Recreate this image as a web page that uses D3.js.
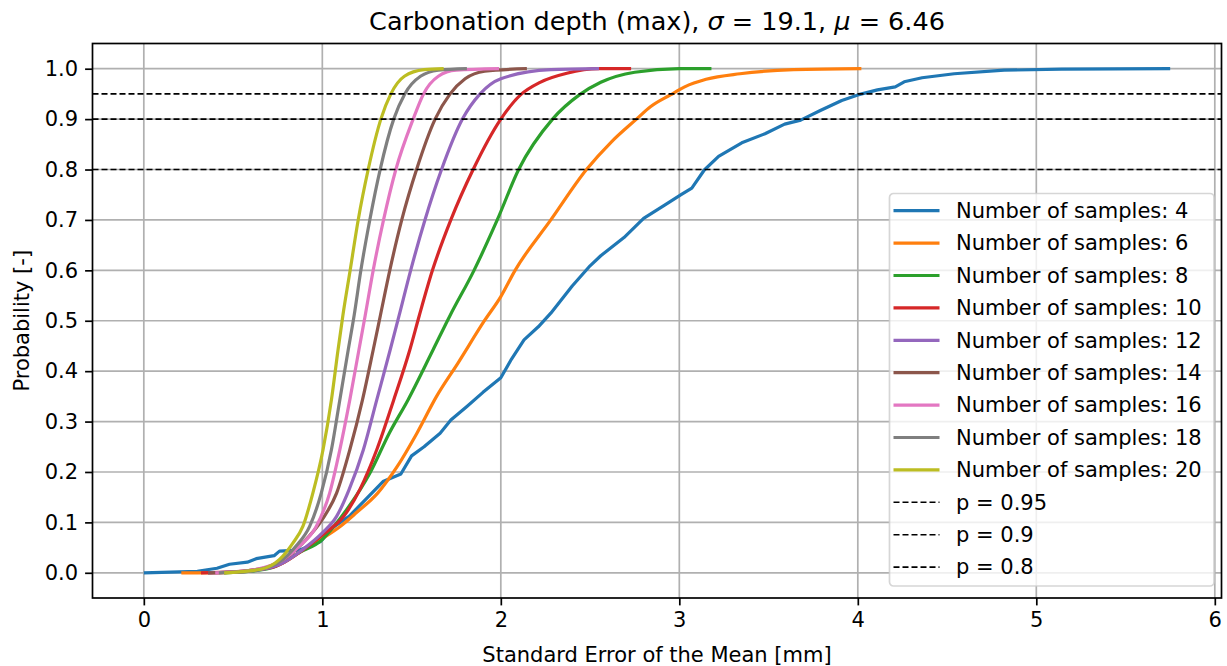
<!DOCTYPE html>
<html>
<head>
<meta charset="utf-8">
<script src="https://cdn.jsdelivr.net/npm/d3@7"></script>
<style>
  body { margin: 0; background: #fff; }
  text { font-family: "DejaVu Sans", sans-serif; fill: #000; }
</style>
</head>
<body>
<div id="chart"></div>
<script>
// standard error of the mean [mm] vs cumulative probability, per sample count
const sem4  = [0, 0.30, 0.41, 0.48, 0.58, 0.63, 0.73, 0.76, 0.87, 0.99, 1.06, 1.15, 1.25, 1.34, 1.44, 1.50, 1.57, 1.66, 1.72, 1.81, 1.90, 2.00, 2.06, 2.13, 2.21, 2.28, 2.40, 2.50, 2.56, 2.69, 2.80, 2.92, 3.01, 3.07, 3.14, 3.22, 3.35, 3.48, 3.59, 3.68, 3.79, 3.91, 4.00, 4.11, 4.21, 4.26, 4.36, 4.54, 4.82, 5.14, 5.75]
const prob4 = [0, 0.003, 0.009, 0.017, 0.021, 0.028, 0.034, 0.043, 0.045, 0.062, 0.09, 0.112, 0.148, 0.181, 0.196, 0.232, 0.25, 0.277, 0.303, 0.33, 0.358, 0.387, 0.424, 0.462, 0.488, 0.515, 0.569, 0.609, 0.629, 0.665, 0.703, 0.73, 0.75, 0.763, 0.799, 0.826, 0.853, 0.871, 0.89, 0.898, 0.917, 0.937, 0.948, 0.958, 0.964, 0.974, 0.982, 0.99, 0.997, 0.999, 1.0]

const sem6  = [0.21, 0.50, 0.59, 0.68, 0.78, 0.87, 1.00, 1.10, 1.19, 1.31, 1.42, 1.53, 1.64, 1.76, 1.91, 2.00, 2.08, 2.28, 2.48, 2.62, 2.76, 2.84, 2.95, 3.03, 3.15, 3.34, 3.64, 4.02]
const prob6 = [0, 0.001, 0.003, 0.01, 0.02, 0.04, 0.068, 0.092, 0.119, 0.158, 0.211, 0.277, 0.35, 0.416, 0.501, 0.548, 0.6, 0.7, 0.8, 0.855, 0.9, 0.925, 0.948, 0.964, 0.979, 0.99, 0.998, 1.0]

const sem8  = [0.45, 0.60, 0.74, 0.87, 1.00, 1.06, 1.15, 1.267, 1.375, 1.48, 1.62, 1.715, 1.85, 1.98, 2.10, 2.29, 2.44, 2.56, 2.75, 3.00, 3.18]
const prob8 = [0, 0.003, 0.013, 0.04, 0.066, 0.09, 0.132, 0.198, 0.277, 0.343, 0.442, 0.51, 0.6, 0.7, 0.8, 0.9, 0.948, 0.973, 0.993, 1.0, 1.0]

const sem10  = [0.32, 0.50, 0.62, 0.74, 0.87, 1.00, 1.12, 1.21, 1.305, 1.40, 1.49, 1.543, 1.617, 1.72, 1.845, 2.00, 2.11, 2.22, 2.37, 2.55, 2.73]
const prob10 = [0, 0.002, 0.006, 0.013, 0.04, 0.075, 0.112, 0.165, 0.244, 0.343, 0.442, 0.51, 0.6, 0.7, 0.8, 0.9, 0.948, 0.973, 0.991, 1.0, 1.0]

const sem12  = [0.36, 0.55, 0.68, 0.78, 0.89, 1.00, 1.08, 1.15, 1.23, 1.305, 1.38, 1.43, 1.495, 1.575, 1.668, 1.785, 1.884, 2.00, 2.28, 2.55]
const prob12 = [0, 0.002, 0.008, 0.02, 0.046, 0.079, 0.112, 0.165, 0.244, 0.343, 0.442, 0.51, 0.6, 0.7, 0.8, 0.9, 0.95, 0.98, 0.998, 1.0]

const sem14  = [0.36, 0.55, 0.68, 0.78, 0.89, 1.00, 1.08, 1.154, 1.225, 1.285, 1.325, 1.378, 1.445, 1.528, 1.632, 1.716, 1.80, 1.91, 2.146]
const prob14 = [0, 0.003, 0.01, 0.026, 0.059, 0.106, 0.158, 0.244, 0.343, 0.442, 0.51, 0.6, 0.7, 0.8, 0.9, 0.95, 0.98, 0.995, 1.0]

const sem16  = [0.40, 0.60, 0.78, 0.872, 0.966, 1.041, 1.098, 1.154, 1.205, 1.24, 1.285, 1.343, 1.412, 1.509, 1.567, 1.65, 1.75, 1.99]
const prob16 = [0, 0.005, 0.026, 0.053, 0.092, 0.158, 0.244, 0.343, 0.442, 0.51, 0.6, 0.7, 0.8, 0.9, 0.95, 0.985, 0.997, 1.0]

const sem18  = [0.42, 0.62, 0.778, 0.853, 0.929, 0.994, 1.051, 1.098, 1.145, 1.178, 1.216, 1.266, 1.324, 1.40, 1.462, 1.55, 1.65, 1.81]
const prob18 = [0, 0.005, 0.026, 0.053, 0.092, 0.158, 0.244, 0.343, 0.442, 0.51, 0.6, 0.7, 0.8, 0.9, 0.95, 0.985, 0.997, 1.0]

const sem20  = [0.45, 0.655, 0.759, 0.835, 0.891, 0.947, 1.004, 1.051, 1.088, 1.115, 1.156, 1.201, 1.257, 1.328, 1.384, 1.46, 1.57, 1.68]
const prob20 = [0, 0.007, 0.026, 0.059, 0.092, 0.158, 0.244, 0.343, 0.442, 0.51, 0.6, 0.7, 0.8, 0.9, 0.95, 0.985, 0.998, 1.0]

const sampleCounts = [4, 6, 8, 10, 12, 14, 16, 18, 20]
const semLists  = [sem4, sem6, sem8, sem10, sem12, sem14, sem16, sem18, sem20]
const probLists = [prob4, prob6, prob8, prob10, prob12, prob14, prob16, prob18, prob20]
const thresholds = [0.95, 0.9, 0.8]

const xTicks = [0, 1, 2, 3, 4, 5, 6]
const yTicks = [0, 0.1, 0.2, 0.3, 0.4, 0.5, 0.6, 0.7, 0.8, 0.9, 1.0]

const colors = ["#1f77b4", "#ff7f0e", "#2ca02c", "#d62728", "#9467bd",
                "#8c564b", "#e377c2", "#7f7f7f", "#bcbd22"]

const W = 1227, H = 666
const axL = 92.5, axR = 1221.5, axT = 43.5, axB = 598

const svg = d3.select("#chart").append("svg")
      .attr("width", W).attr("height", H)

const x = d3.scaleLinear().domain([-0.2875, 6.0375]).range([axL, axR])
const y = d3.scaleLinear().domain([-0.05, 1.05]).range([axB, axT])

// grid
svg.append("g").selectAll("line").data(xTicks).join("line")
  .attr("x1", d => x(d)).attr("x2", d => x(d))
  .attr("y1", axT).attr("y2", axB)
  .attr("stroke", "#b0b0b0").attr("stroke-width", 1.7)
svg.append("g").selectAll("line").data(yTicks).join("line")
  .attr("y1", d => y(d)).attr("y2", d => y(d))
  .attr("x1", axL).attr("x2", axR)
  .attr("stroke", "#b0b0b0").attr("stroke-width", 1.7)

const plot = svg.append("g")

const series = sampleCounts.map((n, i) => ({
  n: n,
  color: colors[i],
  pts: semLists[i].map((s, j) => [s, probLists[i][j]])
}))

const line = d3.line().x(d => x(d[0])).y(d => y(d[1]))

plot.selectAll(".cdf").data(series).join("path")
  .attr("class", "cdf")
  .attr("fill", "none")
  .attr("stroke", d => d.color)
  .attr("stroke-width", 3.2)
  .attr("stroke-linejoin", "round")
  .attr("d", d => line.curve(d.n == 4 ? d3.curveLinear : d3.curveMonotoneX)(d.pts))

plot.selectAll(".thr").data(thresholds).join("line")
  .attr("class", "thr")
  .attr("x1", axL).attr("x2", axR)
  .attr("y1", d => y(d)).attr("y2", d => y(d))
  .attr("stroke", "#000").attr("stroke-width", 1.6)
  .attr("stroke-dasharray", "6,3")

// axes
const xAxis = svg.append("g").attr("transform", `translate(0,${axB})`)
  .call(d3.axisBottom(x).tickValues(xTicks).tickSize(7.4).tickPadding(7).tickFormat(d3.format("d")))
const yAxis = svg.append("g").attr("transform", `translate(${axL},0)`)
  .call(d3.axisLeft(y).tickValues(yTicks).tickSize(7.4).tickPadding(7).tickFormat(d3.format(".1f")))

for (const ax of [xAxis, yAxis]) {
  ax.select(".domain").remove()
  ax.selectAll(".tick line").attr("stroke", "#000").attr("stroke-width", 1.7)
  ax.selectAll(".tick text").attr("font-size", 21).attr("font-family", "DejaVu Sans").attr("fill", "#000")
}

svg.append("rect")
  .attr("x", axL).attr("y", axT)
  .attr("width", axR - axL).attr("height", axB - axT)
  .attr("fill", "none").attr("stroke", "#000").attr("stroke-width", 1.7)

// legend
const lg = svg.append("g").attr("transform", "translate(889.5,193.5)")
lg.append("rect")
  .attr("width", 324.5).attr("height", 392.5).attr("rx", 4)
  .attr("fill", "#fff").attr("fill-opacity", 0.8)
  .attr("stroke", "#cccccc").attr("stroke-opacity", 0.8).attr("stroke-width", 1.7)

const legendItems = series.map(s => ({label: "Number of samples: " + s.n, color: s.color, dash: null}))
  .concat(thresholds.map(t => ({label: "p = " + t, color: "#000", dash: "6,3"})))

const rows = lg.selectAll(".row").data(legendItems).join("g")
  .attr("class", "row")
  .attr("transform", (d, i) => `translate(0,${17.2 + i * 32.4})`)
rows.append("line")
  .attr("x1", 4).attr("x2", 50)
  .attr("stroke", d => d.color)
  .attr("stroke-width", d => d.dash ? 1.6 : 3.2)
  .attr("stroke-dasharray", d => d.dash)
rows.append("text")
  .attr("x", 66.5).attr("dy", "0.35em")
  .attr("font-size", 21)
  .text(d => d.label)

// titles
const title = svg.append("text")
  .attr("x", (axL + axR) / 2).attr("y", 30)
  .attr("text-anchor", "middle").attr("font-size", 25.5)
title.append("tspan").text("Carbonation depth (max), ")
title.append("tspan").attr("font-style", "italic").text("σ")
title.append("tspan").text(" = 19.1, ")
title.append("tspan").attr("font-style", "italic").text("μ")
title.append("tspan").text(" = 6.46")

svg.append("text")
  .attr("x", (axL + axR) / 2).attr("y", 662)
  .attr("text-anchor", "middle").attr("font-size", 21)
  .text("Standard Error of the Mean [mm]")

svg.append("text")
  .attr("transform", `translate(29,${(axT + axB) / 2}) rotate(-90)`)
  .attr("text-anchor", "middle").attr("font-size", 21)
  .text("Probability [-]")
</script>
</body>
</html>
